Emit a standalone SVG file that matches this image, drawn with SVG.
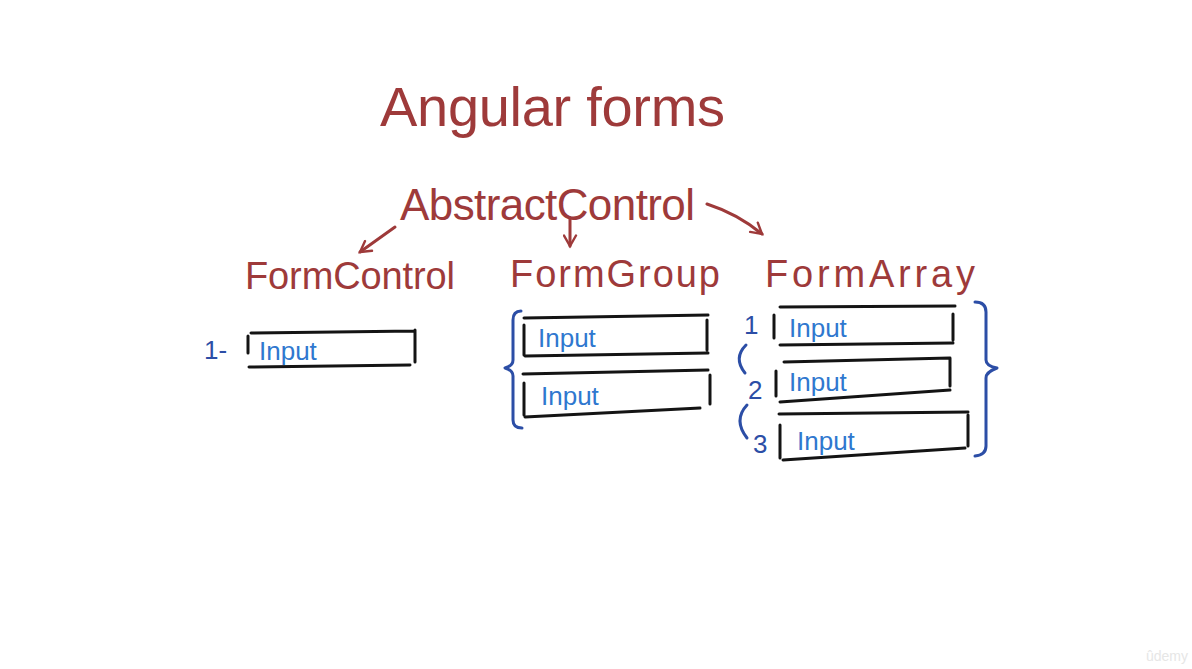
<svg xmlns="http://www.w3.org/2000/svg" width="1192" height="669" viewBox="0 0 1192 669">
<style>
.red{fill:#9e3a3a;font-family:"Liberation Sans","DejaVu Sans",sans-serif}
.inp{fill:#2f78cf;font-family:"Liberation Sans","DejaVu Sans",sans-serif;font-size:26px}
.num{fill:#2c4ea6;font-family:"Liberation Sans","DejaVu Sans",sans-serif;font-size:26px}
.box{fill:none;stroke:#141414;stroke-width:3;stroke-linecap:round}
.brk{fill:none;stroke:#2c4ea6;stroke-width:3;stroke-linecap:round;stroke-linejoin:round}
.arr{fill:none;stroke:#9e3a3a;stroke-width:3;stroke-linecap:round}
</style>
<defs>
<marker id="ah" viewBox="0 0 10 10" refX="8" refY="5" markerWidth="5" markerHeight="5" orient="auto-start-reverse" markerUnits="strokeWidth">
<path d="M1,1 L8,5 L1,9" fill="none" stroke="#9e3a3a" stroke-width="1.6" stroke-linecap="round"/>
</marker>
</defs>
<rect width="1192" height="669" fill="#ffffff"/>

<g id="title">
<text class="red" x="380" y="126" font-size="56" textLength="345" lengthAdjust="spacing">Angular forms</text>
</g>

<g id="abstract-control">
<text class="red" x="400" y="220" font-size="44" textLength="295" lengthAdjust="spacing">AbstractControl</text>
</g>

<g id="connectors">
<path class="arr" d="M395,227 L360,252" marker-end="url(#ah)"/>
<path class="arr" d="M570,218 L570,246" marker-end="url(#ah)"/>
<path class="arr" d="M707,204 Q738,214 762,234" marker-end="url(#ah)"/>
</g>

<g id="form-control">
<text class="red" x="245" y="289" font-size="38" textLength="210" lengthAdjust="spacing">FormControl</text>
<path class="box" d="M251,333 L415,331 M249,367 L410,365 M248,336 L248,353 M415,330 L415,362"/>
<text class="inp" x="259" y="360">Input</text>
<text class="num" x="204" y="359" font-size="28">1-</text>
</g>

<g id="form-group">
<text class="red" x="510" y="287" font-size="38" textLength="210" lengthAdjust="spacing">FormGroup</text>
<path class="brk" d="M521,311 Q513,311 513,320 L513,360 Q513,366 505,368 Q513,370 513,376 L513,420 Q513,428 522,428"/>
<path class="box" d="M524,318 L708,315 M525,356 L708,353 M524,325 L524,355 M707,320 L707,350"/>
<text class="inp" x="538" y="347">Input</text>
<path class="box" d="M523,374 L708,370 M525,417 L700,408 M524,383 L524,415 M710,375 L710,404"/>
<text class="inp" x="541" y="405">Input</text>
</g>

<g id="form-array">
<text class="red" x="765" y="287" font-size="38" textLength="210" lengthAdjust="spacing">FormArray</text>
<path class="box" d="M780,307 L955,306 M780,345 L953,343 M774,315 L774,338 M953,314 L953,340"/>
<text class="num" x="744" y="334">1</text>
<text class="inp" x="789" y="337">Input</text>
<path class="box" d="M784,362 L950,358 M780,402 L950,390 M776,371 L776,396 M950,358 L950,386"/>
<path class="brk" d="M746,345 Q733,358 745,373"/>
<text class="num" x="748" y="399">2</text>
<text class="inp" x="789" y="391">Input</text>
<path class="box" d="M779,414 L968,412 M783,460 L965,448 M780,425 L780,458 M968,415 L968,446"/>
<path class="brk" d="M747,405 Q733,420 747,438"/>
<text class="num" x="753" y="453">3</text>
<text class="inp" x="797" y="450">Input</text>
<path class="brk" d="M975,302 Q986,302 986,312 L986,360 Q986,366 997,368 Q986,372 986,378 L986,446 Q986,455 975,456"/>
</g>

<g id="watermark">
<text x="1146" y="661" font-family="'Liberation Sans',sans-serif" font-size="14" fill="#e6e6e6">ûdemy</text>
</g>
</svg>
